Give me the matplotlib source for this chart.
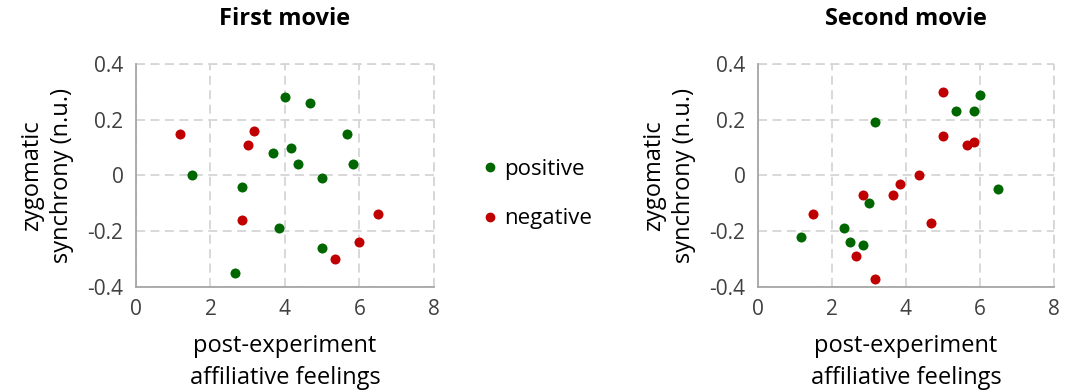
import matplotlib
matplotlib.use('Agg')
import matplotlib.pyplot as plt
from matplotlib.lines import Line2D

plt.rcParams.update({
    'font.family': ['Open Sans', 'DejaVu Sans'],
    'font.size': 13,
})

GREEN = '#006600'
RED = '#C00000'

# First movie
m1_pos_x = [4.0, 4.67, 5.67, 4.17, 3.67, 4.34, 5.84, 1.5, 5.0, 2.84, 3.84, 5.0, 2.67]
m1_pos_y = [0.28, 0.26, 0.15, 0.10, 0.08, 0.04, 0.04, 0.0, -0.01, -0.04, -0.19, -0.26, -0.35]
m1_neg_x = [1.17, 3.17, 3.0, 2.84, 6.49, 6.0, 5.34]
m1_neg_y = [0.15, 0.16, 0.11, -0.16, -0.14, -0.24, -0.30]

# Second movie
m2_pos_x = [5.99, 5.34, 5.83, 3.15, 6.49, 2.99, 2.32, 2.49, 2.83, 1.15]
m2_pos_y = [0.29, 0.23, 0.23, 0.19, -0.05, -0.10, -0.19, -0.24, -0.25, -0.22]
m2_neg_x = [5.0, 5.0, 5.65, 5.83, 4.34, 3.83, 3.66, 2.83, 1.5, 4.67, 2.66, 3.15]
m2_neg_y = [0.30, 0.14, 0.11, 0.12, 0.0, -0.03, -0.07, -0.07, -0.14, -0.17, -0.29, -0.37]

titles = ['First movie', 'Second movie']
xticks = [0, 2, 4, 6, 8]
yticks = [-0.4, -0.2, 0, 0.2, 0.4]
yticklabels = ['-0.4', '-0.2', '0', '0.2', '0.4']

fig = plt.figure(figsize=(10.73, 3.92), dpi=100)
ax1 = fig.add_axes([0.1267, 0.268, 0.2777, 0.569])
ax2 = fig.add_axes([0.7064, 0.268, 0.2759, 0.569])

data = [(m1_pos_x, m1_pos_y, m1_neg_x, m1_neg_y),
        (m2_pos_x, m2_pos_y, m2_neg_x, m2_neg_y)]

GRID = '#D6D6D6'
DASH = (0, (5, 3))

for ax, title, (px, py, nx, ny) in zip([ax1, ax2], titles, data):
    ax.scatter(px, py, s=52, color=GREEN, zorder=3, linewidths=0)
    ax.scatter(nx, ny, s=52, color=RED, zorder=3, linewidths=0)
    ax.set_xlim(0, 8)
    ax.set_ylim(-0.4, 0.4)
    ax.set_xticks(xticks)
    ax.set_yticks(yticks)
    ax.set_yticklabels(yticklabels)
    ax.tick_params(length=0, labelsize=15, colors='#404040', pad=9)
    ax.grid(True, color=GRID, linestyle=DASH, linewidth=1.3)
    ax.set_axisbelow(True)
    for s in ['top', 'right']:
        ax.spines[s].set_visible(False)
    for s in ['left', 'bottom']:
        ax.spines[s].set_color('#A6A6A6')
        ax.spines[s].set_linewidth(1.3)
    ax.axhline(0.4, color=GRID, linestyle=DASH, linewidth=1.3, clip_on=False, zorder=0)
    ax.axvline(8, color=GRID, linestyle=DASH, linewidth=1.3, clip_on=False, zorder=0)
    ax.set_title(title, fontsize=17, fontweight='bold', pad=28)
    ax.set_xlabel('post-experiment\naffiliative feelings', fontsize=17, labelpad=10, linespacing=1.45)
    ax.set_ylabel('zygomatic\nsynchrony (n.u.)', fontsize=17, labelpad=10, linespacing=1.3)

handles = [Line2D([], [], marker='o', linestyle='', color=GREEN, markersize=6),
           Line2D([], [], marker='o', linestyle='', color=RED, markersize=6)]
fig.legend(handles, ['positive', 'negative'], loc='center left',
           bbox_to_anchor=(0.428, 0.505), frameon=False, fontsize=16,
           labelspacing=1.3, handletextpad=0.1, handlelength=1.0)

fig.savefig('out.png', dpi=100, facecolor='white')
